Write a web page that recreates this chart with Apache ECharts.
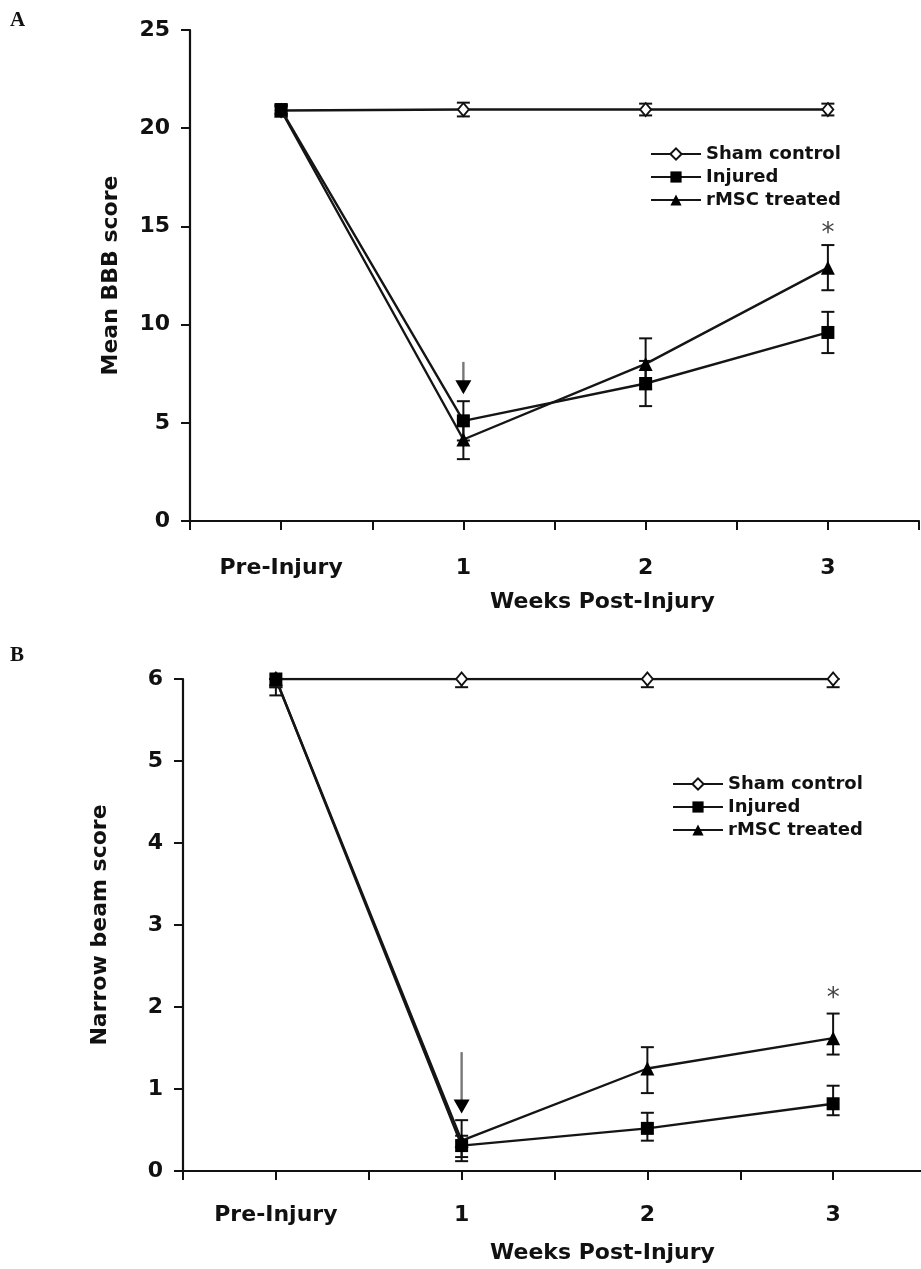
<!DOCTYPE html>
<html><head><meta charset="utf-8">
<script src="https://cdn.jsdelivr.net/npm/echarts@6/dist/echarts.min.js"></script>
<style>
html,body{margin:0;padding:0;background:#fff;overflow:hidden;width:921px;height:1269px;}
#a,#b{position:absolute;left:0;width:940px;}
#a{top:0;height:635px;}
#b{top:635px;height:634px;}
</style></head><body>
<div id="a"></div><div id="b"></div>
<script>
// ---- shared ----
const categories = ['Pre-Injury', '1', '2', '3'];
const xPositions = [1, 3, 5, 7];
const seriesNames = ['Sham control', 'Injured', 'rMSC treated'];

// ---- Panel A: Mean BBB score ----
const bbbSham = [20.9, 20.95, 20.95, 20.95];
const bbbShamErrLow = [0.3, 0.35, 0.3, 0.3];
const bbbShamErrHigh = [0.3, 0.35, 0.3, 0.3];
const bbbInjured = [20.95, 5.1, 7.0, 9.6];
const bbbInjuredErrLow = [0.2, 1.0, 1.15, 1.05];
const bbbInjuredErrHigh = [0.2, 1.0, 1.15, 1.05];
const bbbRmsc = [20.9, 4.15, 8.0, 12.9];
const bbbRmscErrLow = [0.2, 1.0, 1.3, 1.15];
const bbbRmscErrHigh = [0.2, 1.0, 1.3, 1.15];
const bbbStar = [7, 14.6];
const bbbArrow = [3, 8.1, 6.45];

// ---- Panel B: Narrow beam score ----
const beamSham = [6.0, 6.0, 6.0, 6.0];
const beamShamErrLow = [0.1, 0.1, 0.1, 0.1];
const beamShamErrHigh = [0, 0, 0, 0];
const beamInjured = [6.0, 0.31, 0.52, 0.82];
const beamInjuredErrLow = [0.2, 0.14, 0.15, 0.14];
const beamInjuredErrHigh = [0, 0.12, 0.19, 0.22];
const beamRmsc = [6.0, 0.37, 1.25, 1.62];
const beamRmscErrLow = [0.1, 0.25, 0.3, 0.2];
const beamRmscErrHigh = [0, 0.25, 0.26, 0.3];
const beamStar = [7, 2.1];
const beamArrow = [3, 1.45, 0.7];

const FONT = 'DejaVu Sans';
const INK = '#111';

function pts(vals) { return xPositions.map((x, i) => [x, vals[i]]); }
function errs(vals, lo, hi) { return xPositions.map((x, i) => [x, vals[i] - lo[i], vals[i] + hi[i]]); }

function errRender(params, api) {
  const x = api.value(0), lo = api.value(1), hi = api.value(2);
  const p1 = api.coord([x, lo]), p2 = api.coord([x, hi]);
  const hw = 6.5;
  const style = { stroke: INK, lineWidth: 2, fill: null };
  const ch = [{ type: 'line', shape: { x1: p1[0], y1: p1[1], x2: p2[0], y2: p2[1] }, style }];
  if (Math.abs(p1[1] - api.coord([x, api.value(1)])[1]) >= 0) ch.push({ type: 'line', shape: { x1: p1[0] - hw, y1: p1[1], x2: p1[0] + hw, y2: p1[1] }, style });
  ch.push({ type: 'line', shape: { x1: p2[0] - hw, y1: p2[1], x2: p2[0] + hw, y2: p2[1] }, style });
  return { type: 'group', children: ch };
}
function arrowRender(params, api) {
  const x = api.value(0), from = api.value(1), to = api.value(2);
  const a = api.coord([x, from]), b = api.coord([x, to]);
  const hh = 14, hw = 8;
  return { type: 'group', children: [
    { type: 'line', shape: { x1: a[0], y1: a[1], x2: b[0], y2: b[1] - hh + 2 }, style: { stroke: '#777', lineWidth: 2.4 } },
    { type: 'polygon', shape: { points: [[b[0] - hw, b[1] - hh], [b[0] + hw, b[1] - hh], [b[0], b[1]]] }, style: { fill: '#000' } }
  ]};
}
function starRender(params, api) {
  const p = api.coord([api.value(0), api.value(1)]);
  return { type: 'text', x: p[0], y: p[1], style: { text: '*', fontSize: 26, fontFamily: FONT, fill: '#444', align: 'center', verticalAlign: 'middle' } };
}

function buildOption(cfg) {
  return {
    animation: false,
    backgroundColor: '#fff',
    grid: { left: cfg.gridLeft, top: cfg.gridTop, width: cfg.gridWidth, height: cfg.gridHeight, containLabel: false },
    graphic: [{ type: 'text', left: 10, top: cfg.letterTop, style: { text: cfg.letter, fontSize: 21, fontWeight: 'bold', fontFamily: 'Liberation Serif', fill: '#111' } }],
    legend: {
      orient: 'vertical', left: cfg.legendLeft, top: cfg.legendTop, padding: 0,
      itemWidth: 50, itemHeight: 14, itemGap: 5,
      textStyle: { fontSize: 18, fontWeight: 'bold', fontFamily: FONT, color: '#111' },
      data: seriesNames
    },
    xAxis: {
      type: 'value', min: 0, max: 8, interval: 1,
      axisLine: { onZero: false, lineStyle: { color: INK, width: 2.2 } },
      axisTick: { length: 9, lineStyle: { color: INK, width: 2 } },
      splitLine: { show: false },
      axisLabel: {
        margin: cfg.xLabelMargin, fontSize: 22, fontWeight: 'bold', fontFamily: FONT, color: '#111',
        formatter: v => { const i = xPositions.indexOf(v); return i >= 0 ? categories[i] : ''; }
      },
      name: 'Weeks Post-Injury', nameLocation: 'middle', nameGap: cfg.xNameGap,
      nameTextStyle: { fontSize: 22, fontWeight: 'bold', fontFamily: FONT, color: '#111', padding: [0, 0, 0, cfg.xNameShift] }
    },
    yAxis: {
      type: 'value', min: 0, max: cfg.yMax, interval: cfg.yInterval,
      axisLine: { show: true, lineStyle: { color: INK, width: 2.2 } },
      axisTick: { show: true, length: 9, lineStyle: { color: INK, width: 2 } },
      splitLine: { show: false },
      axisLabel: { margin: 20, fontSize: 22, fontWeight: 'bold', fontFamily: FONT, color: '#111' },
      name: cfg.yName, nameLocation: 'middle', nameGap: cfg.yNameGap,
      nameTextStyle: { fontSize: 22, fontWeight: 'bold', fontFamily: FONT, color: '#111' }
    },
    series: [
      { type: 'custom', name: 'errSham', renderItem: errRender, data: errs(cfg.sham, cfg.shamLo, cfg.shamHi), encode: { x: 0, y: [1, 2] }, z: 2 },
      { type: 'custom', name: 'errRmsc', renderItem: errRender, data: errs(cfg.rmsc, cfg.rmscLo, cfg.rmscHi), encode: { x: 0, y: [1, 2] }, z: 2 },
      { type: 'custom', name: 'errInj', renderItem: errRender, data: errs(cfg.injured, cfg.injuredLo, cfg.injuredHi), encode: { x: 0, y: [1, 2] }, z: 2 },
      { type: 'line', name: 'Sham control', data: pts(cfg.sham), symbol: 'diamond', symbolSize: [11, 13], showAllSymbol: true,
        itemStyle: { color: '#fff', borderColor: '#111', borderWidth: 1.8 }, lineStyle: { color: '#151515', width: 2.4 }, z: 3 },
      { type: 'line', name: 'rMSC treated', data: pts(cfg.rmsc), symbol: 'triangle', symbolSize: 14, showAllSymbol: true,
        itemStyle: { color: '#000' }, lineStyle: { color: '#151515', width: 2.4 }, z: 4 },
      { type: 'line', name: 'Injured', data: pts(cfg.injured), symbol: 'rect', symbolSize: 13, showAllSymbol: true,
        itemStyle: { color: '#000' }, lineStyle: { color: '#151515', width: 2.4 }, z: 5 },
      { type: 'custom', name: 'arrow', renderItem: arrowRender, data: [cfg.arrow], encode: { x: 0, y: [1, 2] }, z: 6 },
      { type: 'custom', name: 'star', renderItem: starRender, data: [cfg.star], encode: { x: 0, y: 1 }, z: 6 }
    ]
  };
}

const chartA = echarts.init(document.getElementById('a'));
chartA.setOption(buildOption({
  letter: 'A', letterTop: 10,
  gridLeft: 190, gridTop: 30, gridWidth: 729, gridHeight: 491,
  legendLeft: 650, legendTop: 145,
  xLabelMargin: 36, xNameGap: 70, xNameShift: 96,
  yMax: 25, yInterval: 5, yName: 'Mean BBB score', yNameGap: 68,
  sham: bbbSham, shamLo: bbbShamErrLow, shamHi: bbbShamErrHigh,
  injured: bbbInjured, injuredLo: bbbInjuredErrLow, injuredHi: bbbInjuredErrHigh,
  rmsc: bbbRmsc, rmscLo: bbbRmscErrLow, rmscHi: bbbRmscErrHigh,
  star: bbbStar, arrow: bbbArrow
}));

const chartB = echarts.init(document.getElementById('b'));
chartB.setOption(buildOption({
  letter: 'B', letterTop: 10,
  gridLeft: 183, gridTop: 44, gridWidth: 743, gridHeight: 492.5,
  legendLeft: 672, legendTop: 140,
  xLabelMargin: 33, xNameGap: 71, xNameShift: 96,
  yMax: 6, yInterval: 1, yName: 'Narrow beam score', yNameGap: 72,
  sham: beamSham, shamLo: beamShamErrLow, shamHi: beamShamErrHigh,
  injured: beamInjured, injuredLo: beamInjuredErrLow, injuredHi: beamInjuredErrHigh,
  rmsc: beamRmsc, rmscLo: beamRmscErrLow, rmscHi: beamRmscErrHigh,
  star: beamStar, arrow: beamArrow
}));
</script>
</body></html>
